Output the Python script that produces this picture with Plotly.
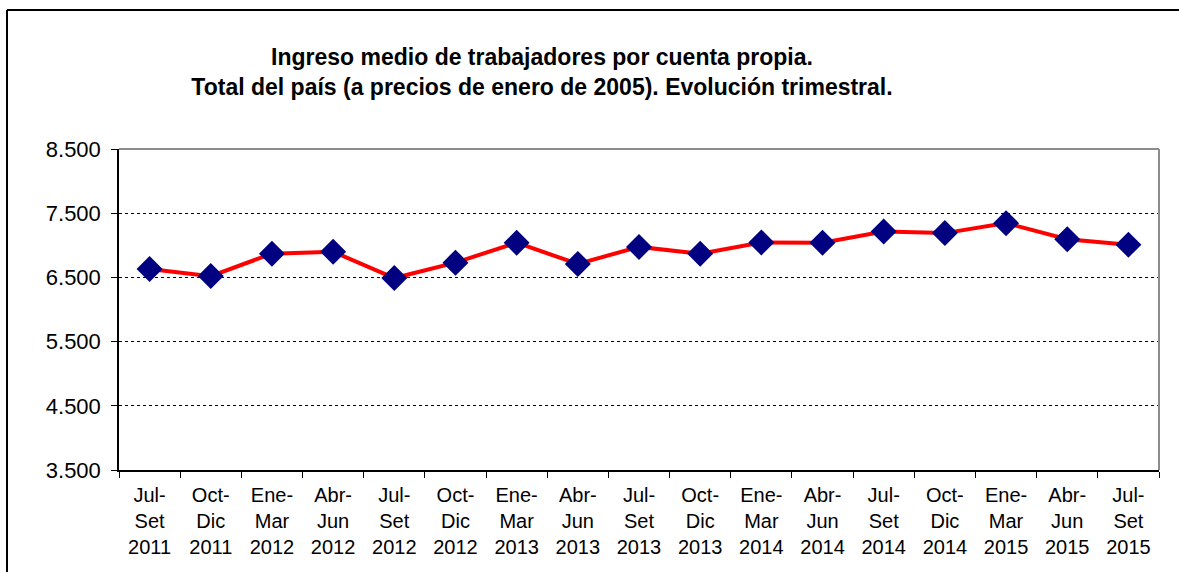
import plotly.graph_objects as go

periodos = [
    "Jul-<br>Set<br>2011", "Oct-<br>Dic<br>2011", "Ene-<br>Mar<br>2012", "Abr-<br>Jun<br>2012",
    "Jul-<br>Set<br>2012", "Oct-<br>Dic<br>2012", "Ene-<br>Mar<br>2013", "Abr-<br>Jun<br>2013",
    "Jul-<br>Set<br>2013", "Oct-<br>Dic<br>2013", "Ene-<br>Mar<br>2014", "Abr-<br>Jun<br>2014",
    "Jul-<br>Set<br>2014", "Oct-<br>Dic<br>2014", "Ene-<br>Mar<br>2015", "Abr-<br>Jun<br>2015",
    "Jul-<br>Set<br>2015",
]
ingreso = [6630, 6520, 6870, 6900, 6490, 6730, 7040, 6710, 6975,
           6870, 7045, 7040, 7215, 7190, 7345, 7095, 7010]
y_ticks = [3500, 4500, 5500, 6500, 7500, 8500]

_FONT = dict(family="Liberation Sans, Arial", color="#000000", size=20)

fig = go.Figure()
fig.add_trace(go.Scatter(
    x=periodos, y=ingreso, mode="lines+markers",
    line=dict(color="#FF0000", width=4),
    marker=dict(symbol="diamond", size=20, color="#000080"),
    showlegend=False,
))

fig.update_layout(
    width=1179, height=572,
    paper_bgcolor="#FFFFFF", plot_bgcolor="#FFFFFF",
    font=_FONT,
    separators=",.",
    margin=dict(l=119, r=20, t=149, b=102),
    title=dict(
        text="<b>Ingreso medio de trabajadores por cuenta propia.<br>"
             "Total del país (a precios de enero de 2005). Evolución trimestral.</b>",
        font=dict(size=23, color="#000000"),
        x=542 / 1179, xanchor="center", y=1 - 65 / 572, yanchor="middle",
    ),
    xaxis=dict(
        type="category", range=[-0.5, len(periodos) - 0.5],
        showgrid=False, zeroline=False,
        showline=True, linecolor="#000000", linewidth=1.5,
        ticks="outside", ticklen=6, tickcolor="#000000", tickson="boundaries",
        tickfont=dict(size=20), tickangle=0, ticklabelstandoff=6,
    ),
    yaxis=dict(
        range=[3500, 8500], tickvals=y_ticks, tickformat=",d",
        showgrid=True, gridcolor="#000000", gridwidth=1, griddash="dot",
        zeroline=False, showline=True, linecolor="#000000", linewidth=1.5,
        ticks="outside", ticklen=6, tickcolor="#000000",
        tickfont=dict(size=22), ticklabelstandoff=6,
    ),
)

# borde superior y derecho gris del area de trazado
fig.add_shape(type="line", xref="paper", yref="paper", x0=0, x1=1, y0=1, y1=1,
              line=dict(color="#8C8C8C", width=2), layer="above")
fig.add_shape(type="line", xref="paper", yref="paper", x0=1, x1=1, y0=0, y1=1,
              line=dict(color="#8C8C8C", width=2), layer="above")

# marco exterior (solo se ve arriba e izquierda)
_pw, _ph = 1040, 321
fig.add_shape(type="line", xref="paper", yref="paper",
              x0=(7 - 119) / _pw, x1=(1179 - 119) / _pw,
              y0=1 + 139 / _ph, y1=1 + 139 / _ph,
              line=dict(color="#000000", width=2))
fig.add_shape(type="line", xref="paper", yref="paper",
              x0=(7 - 119) / _pw, x1=(7 - 119) / _pw,
              y0=1 + 139 / _ph, y1=-102 / _ph,
              line=dict(color="#000000", width=2))

fig.write_html("out.html", config={"displayModeBar": False},
               post_script="document.body.style.margin='0';")
